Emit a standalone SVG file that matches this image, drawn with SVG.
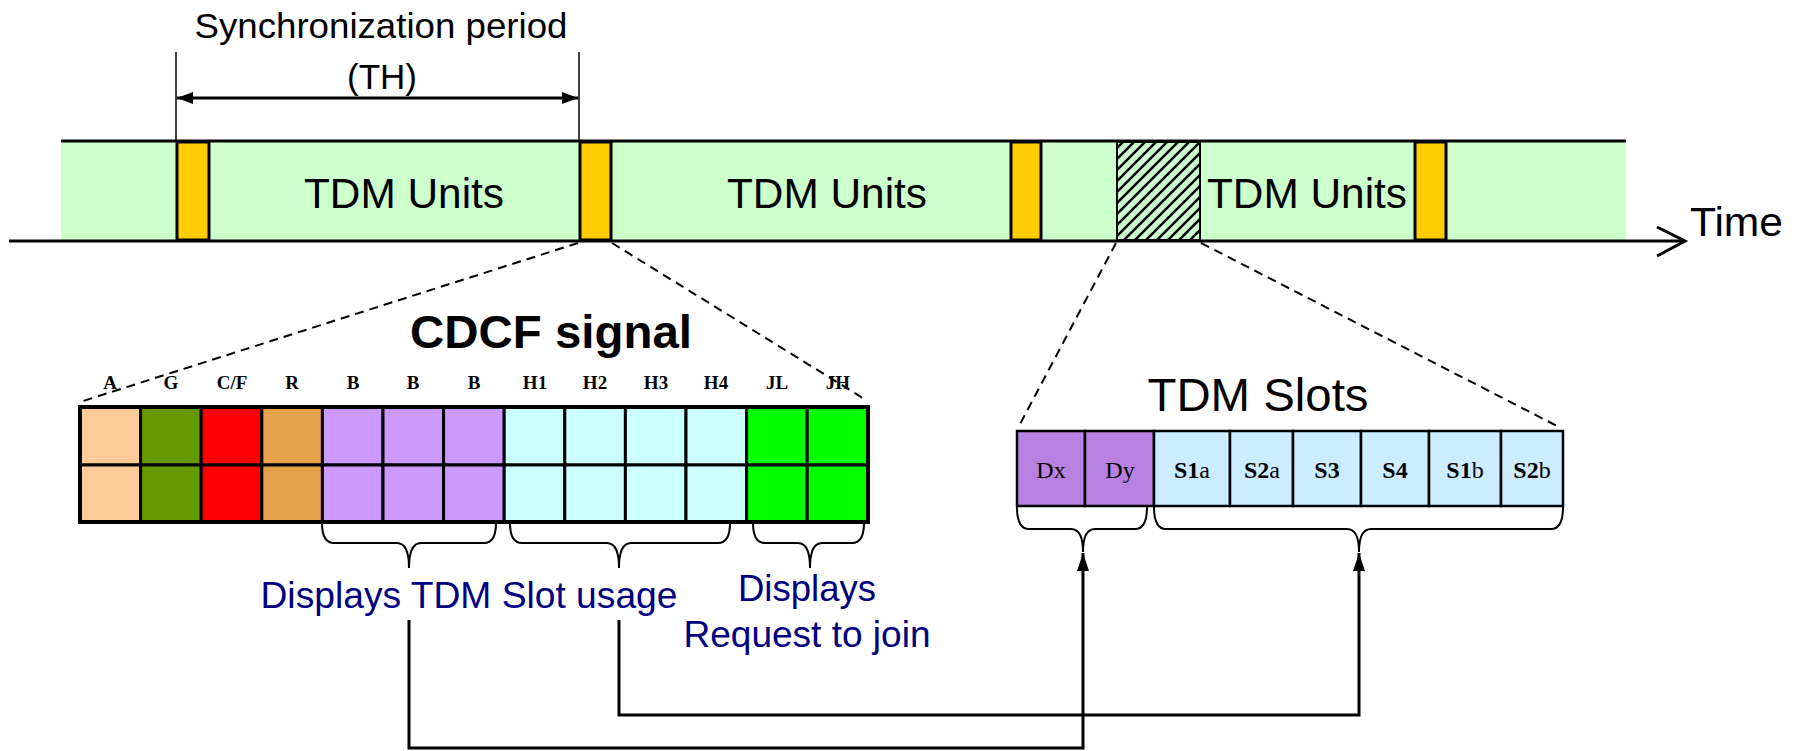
<svg xmlns="http://www.w3.org/2000/svg" width="1796" height="751" viewBox="0 0 1796 751">
<defs>
<style>
.sans{font-family:"Liberation Sans",Arial,sans-serif;}
.serif{font-family:"Liberation Serif","Times New Roman",serif;}
.sync{fill:#FFCC00;stroke:#000;stroke-width:3;}
.dash{fill:none;stroke:#000;stroke-width:2;stroke-dasharray:9,6;}
.cell{stroke:#000;stroke-width:3;}
.scell{stroke:#000;stroke-width:2.5;}
.brace{fill:none;stroke:#000;stroke-width:2;}
.conn{fill:none;stroke:#000;stroke-width:3;}
.lbl{font-family:"Liberation Serif","Times New Roman",serif;font-weight:bold;font-size:19px;text-anchor:middle;}
.blue{fill:#000080;font-family:"Liberation Sans",Arial,sans-serif;font-size:37px;}
</style>
<pattern id="hatch" patternUnits="userSpaceOnUse" width="11" height="11">
<rect width="11" height="11" fill="#CCFFCC"/>
<path d="M-2,2 l4,-4 M0,11 l11,-11 M9,13 l4,-4" stroke="#000" stroke-width="2.5"/>
</pattern>
<marker id="tip" viewBox="0 0 18 12" refX="18" refY="6" markerWidth="18" markerHeight="12" markerUnits="userSpaceOnUse" orient="auto">
<path d="M0,0 L18,6 L0,12 Z" fill="#000"/>
</marker>
<marker id="ah" viewBox="0 0 16 12" refX="16" refY="6" markerWidth="16" markerHeight="12" markerUnits="userSpaceOnUse" orient="auto-start-reverse">
<path d="M0,0 L16,6 L0,12 Z" fill="#000"/>
</marker>
</defs>
<rect width="1796" height="751" fill="#fff"/>

<g id="sync-period">
<line x1="176" y1="52" x2="176" y2="141" stroke="#000" stroke-width="1.5"/>
<line x1="579" y1="52" x2="579" y2="141" stroke="#000" stroke-width="1.5"/>
<line x1="177" y1="98" x2="578" y2="98" stroke="#000" stroke-width="3" marker-start="url(#ah)" marker-end="url(#ah)"/>
<text class="sans" x="381" y="38" font-size="35" text-anchor="middle" textLength="373" lengthAdjust="spacingAndGlyphs">Synchronization period</text>
<text class="sans" x="382" y="89" font-size="35" text-anchor="middle">(TH)</text>
</g>

<g id="timeline">
<rect x="61" y="141" width="1565" height="100" fill="#CCFFCC"/>
<line x1="61" y1="141" x2="1626" y2="141" stroke="#000" stroke-width="3"/>
<line x1="9" y1="241" x2="1684" y2="241" stroke="#000" stroke-width="3"/>
<polyline points="1657,227 1685,241 1657,256" fill="none" stroke="#000" stroke-width="3"/>
<text class="sans" x="1690" y="236" font-size="40" textLength="93" lengthAdjust="spacingAndGlyphs">Time</text>
</g>

<g id="sync1"><rect class="sync" x="177" y="142" width="32" height="98"/></g>
<g id="sync2"><rect class="sync" x="580" y="142" width="31" height="98"/></g>
<g id="sync3"><rect class="sync" x="1011" y="142" width="30" height="98"/></g>
<g id="sync4"><rect class="sync" x="1415" y="142" width="31" height="98"/></g>
<g id="hatched"><rect x="1117" y="142" width="83" height="98" fill="url(#hatch)" stroke="#000" stroke-width="2"/></g>

<g id="tdm-units">
<text class="sans" x="404" y="208" font-size="42" text-anchor="middle" textLength="200" lengthAdjust="spacingAndGlyphs">TDM Units</text>
<text class="sans" x="827" y="208" font-size="42" text-anchor="middle" textLength="200" lengthAdjust="spacingAndGlyphs">TDM Units</text>
<text class="sans" x="1307" y="208" font-size="42" text-anchor="middle" textLength="200" lengthAdjust="spacingAndGlyphs">TDM Units</text>
</g>

<g id="zoom-lines">
<line class="dash" x1="578" y1="243" x2="80" y2="402"/>
<line class="dash" x1="612" y1="243" x2="866" y2="400"/>
<line class="dash" x1="1116" y1="243" x2="1019" y2="426"/>
<line class="dash" x1="1201" y1="243" x2="1561" y2="428"/>
</g>

<g id="cdcf">
<text class="sans" x="551" y="348" font-size="47" font-weight="bold" text-anchor="middle" textLength="282" lengthAdjust="spacingAndGlyphs">CDCF signal</text>
<g>
<rect class="cell" x="80" y="407" width="60.6" height="58" fill="#FFCC99"/>
<rect class="cell" x="80" y="465" width="60.6" height="57" fill="#FFCC99"/>
<rect class="cell" x="140.6" y="407" width="60.6" height="58" fill="#669900"/>
<rect class="cell" x="140.6" y="465" width="60.6" height="57" fill="#669900"/>
<rect class="cell" x="201.2" y="407" width="60.6" height="58" fill="#FF0000"/>
<rect class="cell" x="201.2" y="465" width="60.6" height="57" fill="#FF0000"/>
<rect class="cell" x="261.8" y="407" width="60.6" height="58" fill="#E6A24A"/>
<rect class="cell" x="261.8" y="465" width="60.6" height="57" fill="#E6A24A"/>
<rect class="cell" x="322.4" y="407" width="60.6" height="58" fill="#CC99FF"/>
<rect class="cell" x="322.4" y="465" width="60.6" height="57" fill="#CC99FF"/>
<rect class="cell" x="383" y="407" width="60.6" height="58" fill="#CC99FF"/>
<rect class="cell" x="383" y="465" width="60.6" height="57" fill="#CC99FF"/>
<rect class="cell" x="443.6" y="407" width="60.6" height="58" fill="#CC99FF"/>
<rect class="cell" x="443.6" y="465" width="60.6" height="57" fill="#CC99FF"/>
<rect class="cell" x="504.2" y="407" width="60.6" height="58" fill="#CCFFFF"/>
<rect class="cell" x="504.2" y="465" width="60.6" height="57" fill="#CCFFFF"/>
<rect class="cell" x="564.8" y="407" width="60.6" height="58" fill="#CCFFFF"/>
<rect class="cell" x="564.8" y="465" width="60.6" height="57" fill="#CCFFFF"/>
<rect class="cell" x="625.4" y="407" width="60.6" height="58" fill="#CCFFFF"/>
<rect class="cell" x="625.4" y="465" width="60.6" height="57" fill="#CCFFFF"/>
<rect class="cell" x="686" y="407" width="60.6" height="58" fill="#CCFFFF"/>
<rect class="cell" x="686" y="465" width="60.6" height="57" fill="#CCFFFF"/>
<rect class="cell" x="746.6" y="407" width="60.6" height="58" fill="#00FF00"/>
<rect class="cell" x="746.6" y="465" width="60.6" height="57" fill="#00FF00"/>
<rect class="cell" x="807.2" y="407" width="60.8" height="58" fill="#00FF00"/>
<rect class="cell" x="807.2" y="465" width="60.8" height="57" fill="#00FF00"/>
<rect x="80" y="407" width="788" height="115" fill="none" stroke="#000" stroke-width="4"/>
</g>
<g>
<text class="lbl" x="110" y="389">A</text>
<text class="lbl" x="171" y="389">G</text>
<text class="lbl" x="232" y="389">C/F</text>
<text class="lbl" x="292" y="389">R</text>
<text class="lbl" x="353" y="389">B</text>
<text class="lbl" x="413" y="389">B</text>
<text class="lbl" x="474" y="389">B</text>
<text class="lbl" x="535" y="389">H1</text>
<text class="lbl" x="595" y="389">H2</text>
<text class="lbl" x="656" y="389">H3</text>
<text class="lbl" x="716" y="389">H4</text>
<text class="lbl" x="777" y="389">JL</text>
<text class="lbl" x="838" y="389">JH</text>
</g>
<g>
<path class="brace" d="M322,523 Q322,543 334,543 L397,543 Q409,543 409,568 M496,523 Q496,543 484,543 L421,543 Q409,543 409,568"/>
<path class="brace" d="M510,523 Q510,543 522,543 L607,543 Q619,543 619,568 M730,523 Q730,543 718,543 L631,543 Q619,543 619,568"/>
<path class="brace" d="M753,523 Q753,543 765,543 L798,543 Q810,543 810,568 M864,523 Q864,543 852,543 L822,543 Q810,543 810,568"/>
</g>
<text class="blue" x="469" y="608" text-anchor="middle" textLength="417" lengthAdjust="spacingAndGlyphs">Displays TDM Slot usage</text>
<text class="blue" x="807" y="601" text-anchor="middle" textLength="138" lengthAdjust="spacingAndGlyphs">Displays</text>
<text class="blue" x="807" y="647" text-anchor="middle" textLength="247" lengthAdjust="spacingAndGlyphs">Request to join</text>
</g>

<g id="tdm-slots">
<text class="sans" x="1258" y="411" font-size="46" text-anchor="middle" textLength="221" lengthAdjust="spacingAndGlyphs">TDM Slots</text>
<rect class="scell" x="1017" y="431" width="68" height="75" fill="#B880E0"/>
<rect class="scell" x="1085" y="431" width="69" height="75" fill="#B880E0"/>
<rect class="scell" x="1154" y="431" width="76" height="75" fill="#CCECFF"/>
<rect class="scell" x="1230" y="431" width="63" height="75" fill="#CCECFF"/>
<rect class="scell" x="1293" y="431" width="68" height="75" fill="#CCECFF"/>
<rect class="scell" x="1361" y="431" width="68" height="75" fill="#CCECFF"/>
<rect class="scell" x="1429" y="431" width="72" height="75" fill="#CCECFF"/>
<rect class="scell" x="1501" y="431" width="62" height="75" fill="#CCECFF"/>
<g class="serif" font-size="24" text-anchor="middle">
<text x="1051" y="478">Dx</text>
<text x="1120" y="478">Dy</text>
<text x="1192" y="478"><tspan font-weight="bold">S1</tspan>a</text>
<text x="1262" y="478"><tspan font-weight="bold">S2</tspan>a</text>
<text x="1327" y="478" font-weight="bold">S3</text>
<text x="1395" y="478" font-weight="bold">S4</text>
<text x="1465" y="478"><tspan font-weight="bold">S1</tspan>b</text>
<text x="1532" y="478"><tspan font-weight="bold">S2</tspan>b</text>
</g>
<path class="brace" d="M1017,507 Q1017,529 1029,529 L1071,529 Q1083,529 1083,552 M1147,507 Q1147,529 1135,529 L1095,529 Q1083,529 1083,552"/>
<path class="brace" d="M1154,507 Q1154,529 1166,529 L1347,529 Q1359,529 1359,552 M1563,507 Q1563,529 1551,529 L1371,529 Q1359,529 1359,552"/>
</g>

<g id="connectors">
<path class="conn" d="M409,620 V748 H1083 V553" marker-end="url(#tip)"/>
<path class="conn" d="M619,620 V715 H1359 V553" marker-end="url(#tip)"/>
</g>
</svg>
